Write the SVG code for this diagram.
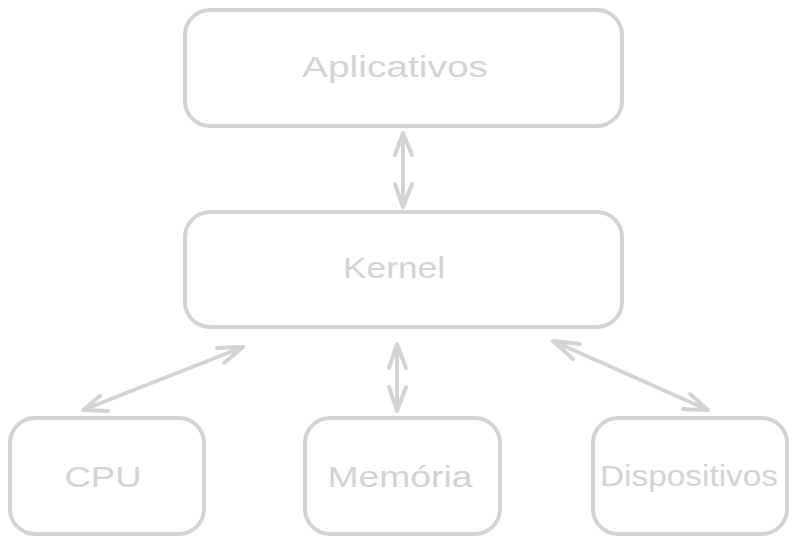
<svg xmlns="http://www.w3.org/2000/svg" width="796" height="545" viewBox="0 0 796 545">
<style>
.box{fill:#ffffff;stroke:#d4d4d4;stroke-width:4;}
.lbl{font-family:"Liberation Sans","DejaVu Sans",sans-serif;font-size:30px;fill:#d4d4d4;text-anchor:middle;}
.con{fill:none;stroke:#d4d4d4;stroke-width:4;stroke-linecap:round;stroke-linejoin:round;}
</style>
<rect width="796" height="545" fill="#ffffff"/>
<g id="aplicativos">
<rect class="box" x="185" y="10" width="437" height="116" rx="25"/>
<text class="lbl" x="395" y="77" textLength="186" lengthAdjust="spacingAndGlyphs">Aplicativos</text>
</g>
<g id="kernel">
<rect class="box" x="185" y="212" width="437" height="115" rx="25"/>
<text class="lbl" x="394" y="278" textLength="102" lengthAdjust="spacingAndGlyphs">Kernel</text>
</g>
<g id="cpu">
<rect class="box" x="10" y="418" width="194" height="116" rx="25"/>
<text class="lbl" x="103" y="487" textLength="77" lengthAdjust="spacingAndGlyphs">CPU</text>
</g>
<g id="memoria">
<rect class="box" x="305" y="418" width="195" height="116" rx="25"/>
<text class="lbl" x="400" y="487" textLength="145" lengthAdjust="spacingAndGlyphs">Memória</text>
</g>
<g id="dispositivos">
<rect class="box" x="593" y="418" width="194" height="116" rx="25"/>
<text class="lbl" x="689" y="486" textLength="178" lengthAdjust="spacingAndGlyphs">Dispositivos</text>
</g>
<g id="connectors">
<path class="con" d="M403 133 L403 207 M395 155 L403 133 L412 155 M395 184 L403 207 L412 184"/>
<path class="con" d="M397 344 L397 411 M389 368 L397 344 L406 368 M389 387 L397 411 L406 387"/>
<path class="con" d="M243 347 L83 410 M217 348 L243 347 L224 363 M108 411 L83 410 L100 396"/>
<path class="con" d="M553 341 L708 410 M580 344 L553 341 L573 359 M683 409 L708 410 L690 394"/>
</g>
</svg>
